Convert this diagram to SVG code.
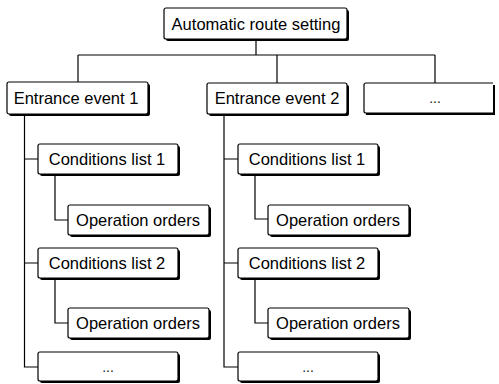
<svg xmlns="http://www.w3.org/2000/svg" width="499" height="384" viewBox="0 0 499 384">
<style>
.sh{fill:#000;stroke:none}
.bx{fill:#fff;stroke:#000;stroke-width:1.2}
.t{font-family:"Liberation Sans",Arial,sans-serif;font-size:16.5px;fill:#000;text-anchor:middle}
.d{font-family:"Liberation Sans",Arial,sans-serif;font-size:14px;fill:#222;text-anchor:middle}
.c{fill:none;stroke:#000;stroke-width:1.2}
</style>
<rect width="499" height="384" fill="#fff"/>
<g id="connectors" class="c">
<path d="M256 41V55M78 55H435M78 55V82M277 55V83M435 55V83"/>
<path d="M24.5 116V367H38M24.5 159H38M24.5 263H38"/>
<path d="M55 175V220H68M55 280V323H68"/>
<path d="M224 116V367H238M224 159H238M224 263H238"/>
<path d="M255 175V219H268M255 280V323H268"/>
</g>
<g id="root"><rect class="sh" x="166" y="10" width="183" height="31" rx="2"/><rect class="bx" x="164" y="8" width="183" height="31" rx="2"/><text class="t" x="256" y="29.5">Automatic route setting</text></g>
<g id="ee1"><rect class="sh" x="9" y="84" width="141" height="32" rx="2"/><rect class="bx" x="7" y="82" width="141" height="32" rx="2"/><text class="t" x="76" y="104">Entrance event 1</text></g>
<g id="ee2"><rect class="sh" x="209" y="85" width="140" height="31" rx="2"/><rect class="bx" x="207" y="83" width="140" height="31" rx="2"/><text class="t" x="277" y="104">Entrance event 2</text></g>
<g id="ee3"><path class="sh" d="M366 85H495V115H366Z"/><path class="bx" d="M493 83H366Q364 83 364 85V111Q364 113 366 113H493"/><text class="d" x="435" y="103">...</text></g>
<g id="c11"><rect class="sh" x="40" y="146" width="140" height="30" rx="2"/><rect class="bx" x="38" y="144" width="140" height="30" rx="2"/><text class="t" x="107" y="165">Conditions list 1</text></g>
<g id="o11"><rect class="sh" x="70" y="207" width="141" height="30" rx="2"/><rect class="bx" x="68" y="205" width="141" height="30" rx="2"/><text class="t" x="138" y="226">Operation orders</text></g>
<g id="c12"><rect class="sh" x="40" y="250" width="140" height="30" rx="2"/><rect class="bx" x="38" y="248" width="140" height="30" rx="2"/><text class="t" x="107" y="269">Conditions list 2</text></g>
<g id="o12"><rect class="sh" x="70" y="310" width="141" height="30" rx="2"/><rect class="bx" x="68" y="308" width="141" height="30" rx="2"/><text class="t" x="138" y="329">Operation orders</text></g>
<g id="c13"><rect class="sh" x="40" y="354" width="140" height="29" rx="2"/><rect class="bx" x="38" y="352" width="140" height="29" rx="2"/><text class="d" x="108" y="372">...</text></g>
<g id="c21"><rect class="sh" x="240" y="146" width="140" height="30" rx="2"/><rect class="bx" x="238" y="144" width="140" height="30" rx="2"/><text class="t" x="307" y="165">Conditions list 1</text></g>
<g id="o21"><rect class="sh" x="270" y="207" width="141" height="30" rx="2"/><rect class="bx" x="268" y="205" width="141" height="30" rx="2"/><text class="t" x="338" y="226">Operation orders</text></g>
<g id="c22"><rect class="sh" x="240" y="250" width="140" height="30" rx="2"/><rect class="bx" x="238" y="248" width="140" height="30" rx="2"/><text class="t" x="307" y="269">Conditions list 2</text></g>
<g id="o22"><rect class="sh" x="270" y="310" width="141" height="30" rx="2"/><rect class="bx" x="268" y="308" width="141" height="30" rx="2"/><text class="t" x="338" y="329">Operation orders</text></g>
<g id="c23"><rect class="sh" x="240" y="354" width="140" height="29" rx="2"/><rect class="bx" x="238" y="352" width="140" height="29" rx="2"/><text class="d" x="308" y="372">...</text></g>
</svg>
